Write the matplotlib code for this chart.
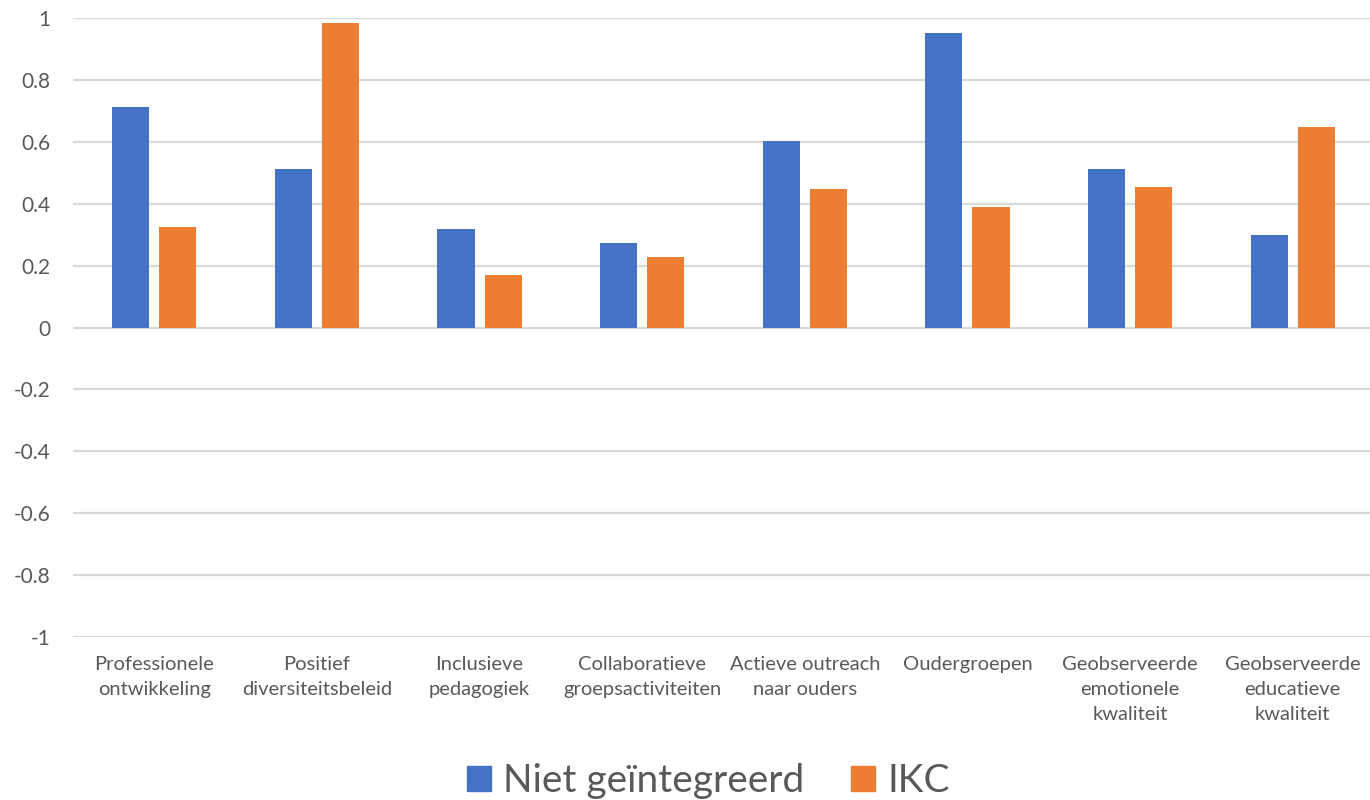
import numpy as np
import matplotlib
matplotlib.use("Agg")
import matplotlib.pyplot as plt
import matplotlib.ticker as mtick
from matplotlib.patches import Patch

# Data
categories = [
    "Professionele\nontwikkeling",
    "Positief\ndiversiteitsbeleid",
    "Inclusieve\npedagogiek",
    "Collaboratieve\ngroepsactiviteiten",
    "Actieve outreach\nnaar ouders",
    "Oudergroepen",
    "Geobserveerde\nemotionele\nkwaliteit",
    "Geobserveerde\neducatieve\nkwaliteit",
]
niet_geintegreerd = [0.712, 0.512, 0.318, 0.273, 0.602, 0.951, 0.512, 0.299]
ikc               = [0.325, 0.983, 0.170, 0.228, 0.447, 0.389, 0.454, 0.647]
series_names = ["Niet geïntegreerd", "IKC"]
y_ticks = [-1, -0.8, -0.6, -0.4, -0.2, 0, 0.2, 0.4, 0.6, 0.8, 1]

BLUE   = "#4472C4"
ORANGE = "#ED7D31"
GRID   = "#D9D9D9"
TEXT   = "#595959"

plt.rcParams["font.family"] = ["Lato", "DejaVu Sans"]
plt.rcParams["axes.unicode_minus"] = False

fig = plt.figure(figsize=(13.7, 8), dpi=100)
ax = fig.add_axes([73 / 1370, 0.20375, 1301 / 1370, 0.77375])

x = np.arange(len(categories))
w = 0.228
off = 0.145
ax.bar(x - off, niet_geintegreerd, width=w, color=BLUE, zorder=3)
ax.bar(x + off, ikc, width=w, color=ORANGE, zorder=3)

ax.set_xlim(-0.5, len(categories) - 0.5)
ax.set_ylim(-1, 1)
ax.set_yticks(y_ticks)
ax.yaxis.set_major_formatter(mtick.FuncFormatter(lambda v, _: f"{v:g}" if abs(v) > 1e-9 else "0"))
ax.grid(axis="y", color=GRID, lw=1.6, zorder=0)
ax.set_axisbelow(True)
for s in ax.spines.values():
    s.set_visible(False)

ax.tick_params(axis="y", length=0, pad=16.5, labelsize=15, labelcolor=TEXT)
ax.set_xticks(x)
ax.set_xticklabels(categories, fontsize=14.5, color=TEXT, linespacing=1.57, va="top")
ax.tick_params(axis="x", length=0, pad=14)

handles = [Patch(color=BLUE), Patch(color=ORANGE)]
fig.legend(handles, series_names, loc="lower center", bbox_to_anchor=(0.517, -0.043),
           ncol=2, frameon=False, fontsize=28, labelcolor=TEXT,
           handlelength=0.62, handleheight=0.62, handletextpad=0.33, columnspacing=1.18)

fig.savefig("out.png", dpi=100)
